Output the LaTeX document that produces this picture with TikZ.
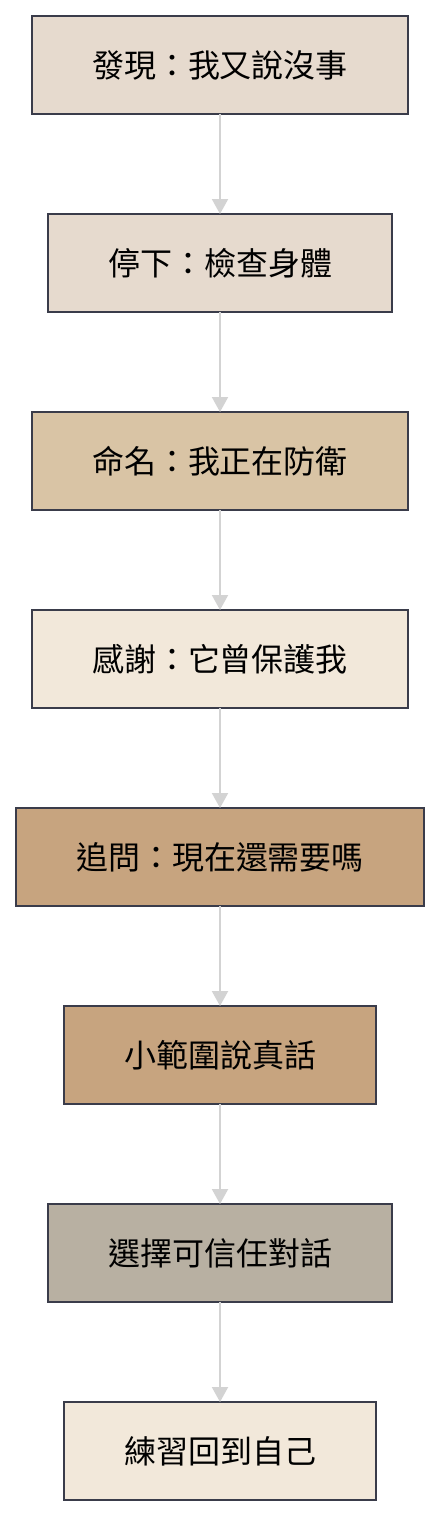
\documentclass[tikz,border=0pt]{standalone}
\usepackage{fontspec}
\setmainfont{Noto Sans CJK TC}
\usetikzlibrary{arrows.meta}
\definecolor{sandpale}{HTML}{E6DACE}
\definecolor{sandmid}{HTML}{D9C4A5}
\definecolor{creamlight}{HTML}{F2E8DA}
\definecolor{tandark}{HTML}{C7A47F}
\definecolor{greystone}{HTML}{B8B0A2}
\definecolor{boxline}{HTML}{3A3C4A}
\definecolor{flowline}{HTML}{D3D3D3}
\tikzset{
  stepbox/.style={draw=boxline, line width=1.5pt, fill=#1, rectangle,
    minimum height=98pt, inner xsep=60pt, inner ysep=0pt, outer sep=0pt,
    font=\fontsize{32pt}{36pt}\selectfont},
  flow/.style={draw=flowline, line width=2pt, -{Triangle[length=15pt,width=16pt]}}
}
\begin{document}
\begin{tikzpicture}[x=1pt,y=1pt]
      \useasboundingbox (0,0) rectangle (440,-1516);
      \path
        (220,-65) node[stepbox=sandpale] (0){發現：我又說沒事}
        (220,-263) node[stepbox=sandpale] (1){停下：檢查身體}
        (220,-461) node[stepbox=sandmid] (2){命名：我正在防衛}
        (220,-659) node[stepbox=creamlight] (3){感謝：它曾保護我}
        (220,-857) node[stepbox=tandark] (4){追問：現在還需要嗎}
        (220,-1055) node[stepbox=tandark] (5){小範圍說真話}
        (220,-1253) node[stepbox=greystone] (6){選擇可信任對話}
        (220,-1451) node[stepbox=creamlight] (7){練習回到自己};
      \begin{scope}[flow]
        \draw (0) to (1);
        \draw (1) to (2);
        \draw (2) to (3);
        \draw (3) to (4);
        \draw (4) to (5);
        \draw (5) to (6);
        \draw (6) to (7);
      \end{scope}
    \end{tikzpicture}
\end{document}
